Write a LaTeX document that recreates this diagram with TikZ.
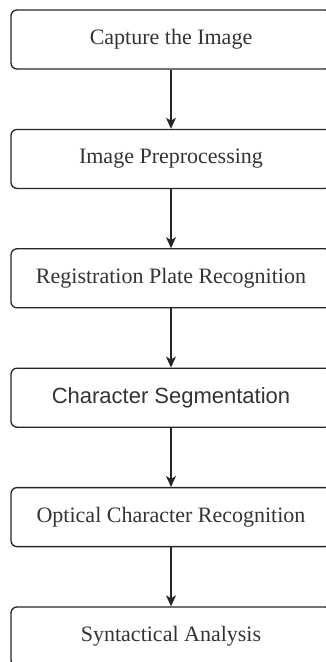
\documentclass[tikz,border=0pt]{standalone}
\usepackage{fontspec}
\setmainfont{Liberation Serif}
\newfontfamily\arialfont{Liberation Sans}
\usetikzlibrary{arrows.meta}
\begin{document}
\begin{tikzpicture}[x=1pt,y=-1pt,
  stepbox/.style={draw=black!85, line width=1.3pt, rounded corners=6pt,
    minimum width=320pt, minimum height=59pt, inner sep=0pt,
    text=black!80, font=\fontsize{22}{26}\selectfont},
  flow/.style={draw=black!85, line width=1.3pt, -{Stealth[length=11pt,width=10pt,inset=3pt]}}]
\useasboundingbox (0,0) rectangle (325,662);
\node[stepbox] (a) at (171,39.5) {Capture the Image};
\node[stepbox] (b) at (171,158.9) {Image Preprocessing};
\node[stepbox] (c) at (171,278.3) {Registration Plate Recognition};
\node[stepbox, font=\arialfont\fontsize{22}{26}\selectfont] (d) at (171,397.7) {Character Segmentation};
\node[stepbox] (e) at (171,517.1) {Optical Character Recognition};
\node[stepbox] (f) at (171,636.5) {Syntactical Analysis};
\draw[flow] (a) -- (b);
\draw[flow] (b) -- (c);
\draw[flow] (c) -- (d);
\draw[flow] (d) -- (e);
\draw[flow] (e) -- (f);
\end{tikzpicture}
\end{document}
